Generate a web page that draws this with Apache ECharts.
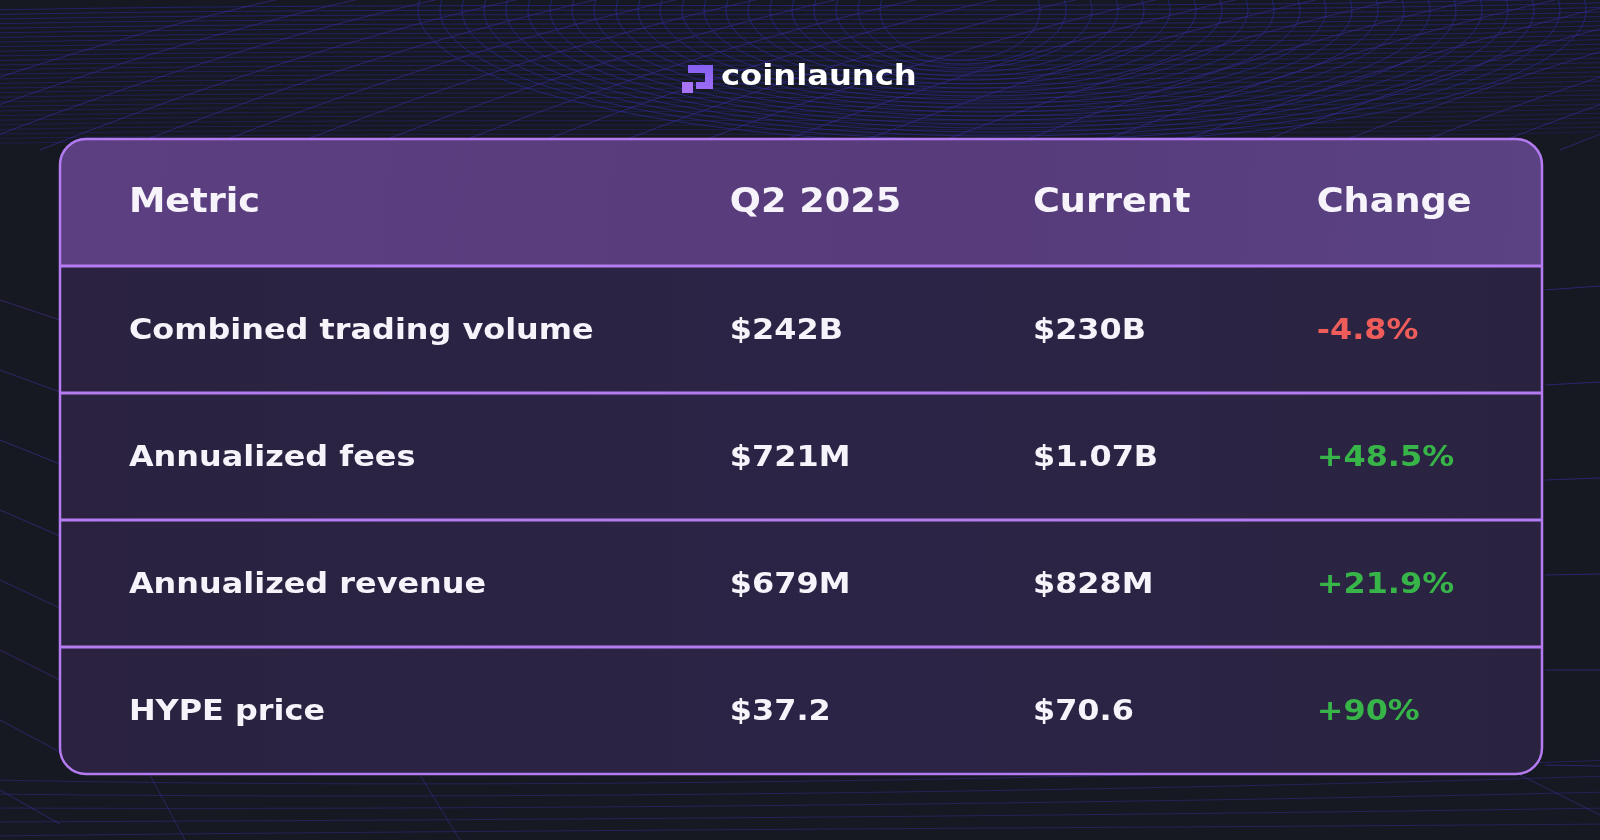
<!DOCTYPE html>
<html>
<head>
<meta charset="utf-8">
<script src="https://cdn.jsdelivr.net/npm/echarts@6/dist/echarts.min.js"></script>
<style>
html,body{margin:0;padding:0;background:#161922;}
#chart{width:1600px;height:840px;}
</style>
</head>
<body>
<div id="chart"></div>
<script>
// ---- data ----
const headers = ['Metric', 'Q2 2025', 'Current', 'Change'];
const metrics = ['Combined trading volume', 'Annualized fees', 'Annualized revenue', 'HYPE price'];
const q2Values = ['$242B', '$721M', '$679M', '$37.2'];
const currentValues = ['$230B', '$1.07B', '$828M', '$70.6'];
const changes = ['-4.8%', '+48.5%', '+21.9%', '+90%'];
const brand = 'coinlaunch';

// ---- layout / style ----
const colStart = [4.65, 45.2, 65.65, 84.8]; // percent of table width
const rowKeys = ['header'].concat(metrics);
const C = {
  bg: '#161922',
  border: '#b57cf2',
  text: '#f6f4fa',
  red: '#ef5d5a',
  green: '#37b548',
  mesh: 'rgba(42,40,150,0.75)'
};
const RADIUS = 26;

// build cell list
const cells = [];
headers.forEach((h, ci) => cells.push({ value: [colStart[ci], 0], text: h, kind: 'head' }));
metrics.forEach((m, ri) => {
  const row = ri + 1;
  cells.push({ value: [colStart[0], row], text: m, kind: 'body' });
  cells.push({ value: [colStart[1], row], text: q2Values[ri], kind: 'body' });
  cells.push({ value: [colStart[2], row], text: currentValues[ri], kind: 'body' });
  cells.push({ value: [colStart[3], row], text: changes[ri], kind: changes[ri].charAt(0) === '-' ? 'neg' : 'pos' });
});

// decorative background mesh (not data)
const decor = [];
for (let i = 0; i < 30; i++) {
  const y0 = 4 + i * 4.6;
  decor.push({ type: 'bezierCurve', silent: true,
    shape: { x1: -10, y1: y0 + 6, cpx1: 500, cpy1: y0 - 4, cpx2: 1100, cpy2: y0 + 8, x2: 1610, y2: y0 - 6 },
    style: { stroke: C.mesh, lineWidth: 1, fill: null, opacity: 0.8 - i * 0.012 } });
}
for (let i = 0; i < 24; i++) {
  const x0 = -200 + i * 80;
  decor.push({ type: 'bezierCurve', silent: true,
    shape: { x1: x0, y1: 150, cpx1: x0 + 150, cpy1: 90, cpx2: x0 + 330, cpy2: 30, x2: x0 + 520, y2: -10 },
    style: { stroke: 'rgba(70,45,180,0.5)', lineWidth: 1, fill: null } });
}
for (let i = 0; i < 22; i++) {
  const rx = 80 + i * 24;
  const ry = 50 + i * 4;
  decor.push({ type: 'ellipse', silent: true,
    shape: { cx: 960 + i * 2, cy: 10, rx: rx, ry: ry },
    style: { stroke: 'rgba(45,45,160,0.6)', lineWidth: 1, fill: null } });
}
for (let i = 0; i < 8; i++) {
  decor.push({ type: 'line', silent: true,
    shape: { x1: 0, y1: 300 + i * 70, x2: 60, y2: 320 + i * 72 },
    style: { stroke: 'rgba(80,50,190,0.45)', lineWidth: 1 } });
}
for (let i = 0; i < 5; i++) {
  decor.push({ type: 'bezierCurve', silent: true,
    shape: { x1: -10, y1: 780 + i * 14, cpx1: 500, cpy1: 790 + i * 10, cpx2: 1100, cpy2: 780 + i * 12, x2: 1610, y2: 760 + i * 16 },
    style: { stroke: 'rgba(60,52,190,0.35)', lineWidth: 1, fill: null } });
}
for (let i = 0; i < 6; i++) {
  decor.push({ type: 'line', silent: true,
    shape: { x1: 1545, y1: 290 + i * 95, x2: 1600, y2: 286 + i * 96 },
    style: { stroke: 'rgba(60,52,190,0.5)', lineWidth: 1 } });
}
decor.push({ type: 'line', silent: true, shape: { x1: 150, y1: 775, x2: 185, y2: 840 }, style: { stroke: 'rgba(80,50,190,0.4)', lineWidth: 1 } });
decor.push({ type: 'line', silent: true, shape: { x1: 420, y1: 775, x2: 460, y2: 840 }, style: { stroke: 'rgba(80,50,190,0.4)', lineWidth: 1 } });
decor.push({ type: 'line', silent: true, shape: { x1: 1520, y1: 775, x2: 1600, y2: 815 }, style: { stroke: 'rgba(80,50,190,0.4)', lineWidth: 1 } });

const chart = echarts.init(document.getElementById('chart'), null, { renderer: 'canvas' });

const option = {
  backgroundColor: C.bg,
  animation: false,
  graphic: [
    { type: 'group', z: -10, silent: true, children: decor },
    { type: 'group', z: 10, children: [
      { type: 'polygon', shape: { points: [[688,65],[713,65],[713,89],[696,89],[696,82],[705,82],[705,73],[688,73]] },
        style: { fill: new echarts.graphic.LinearGradient(0, 0, 0, 1, [{ offset: 0, color: '#8660f2' }, { offset: 1, color: '#9c6df4' }]) } },
      { type: 'rect', shape: { x: 682, y: 82, width: 11, height: 11 }, style: { fill: '#a874f5' } },
      { type: 'text', x: 721, y: 78, scaleX: 1.15,
        style: { text: brand, fill: '#ffffff', font: 'bold 28px "DejaVu Sans"', verticalAlign: 'middle', align: 'left' } }
    ]}
  ],
  grid: { left: 60, right: 58, top: 139, bottom: 66 },
  xAxis: { type: 'value', min: 0, max: 100, show: false },
  yAxis: { type: 'category', data: rowKeys, inverse: true, show: false },
  series: [
    {
      type: 'custom', name: 'rows', z: 1, silent: true,
      data: rowKeys.map((k, i) => [0, i]),
      encode: { x: 0, y: 1 },
      renderItem: function (params, api) {
        const idx = api.value(1);
        const cs = params.coordSys;
        const c = api.coord([0, idx]);
        const h = api.size([0, 1])[1];
        const top = c[1] - h / 2;
        const last = rowKeys.length - 1;
        const r = idx === 0 ? [RADIUS, RADIUS, 0, 0] : (idx === last ? [0, 0, RADIUS, RADIUS] : 0);
        const fill = idx === 0
          ? new echarts.graphic.LinearGradient(0, 0, 1, 1, [{ offset: 0, color: '#5c3f80' }, { offset: 0.6, color: '#573b7b' }, { offset: 1, color: '#5a4283' }])
          : new echarts.graphic.LinearGradient(0, 0, 1, 0, [{ offset: 0, color: '#2a2240' }, { offset: 0.55, color: '#2c2446' }, { offset: 1, color: '#2a2340' }]);
        return { type: 'rect', shape: { x: cs.x, y: top, width: cs.width, height: h, r: r }, style: { fill: fill } };
      }
    },
    {
      type: 'custom', name: 'separators', z: 2, silent: true,
      data: rowKeys.slice(0, -1).map((k, i) => [0, i]),
      encode: { x: 0, y: 1 },
      renderItem: function (params, api) {
        const idx = api.value(1);
        const cs = params.coordSys;
        const c = api.coord([0, idx]);
        const h = api.size([0, 1])[1];
        const yb = c[1] + h / 2;
        return { type: 'line', shape: { x1: cs.x, y1: yb, x2: cs.x + cs.width, y2: yb },
          style: { stroke: C.border, lineWidth: 3 } };
      }
    },
    {
      type: 'custom', name: 'frame', z: 2, silent: true,
      data: [[0, 0]],
      encode: { x: 0, y: 1 },
      renderItem: function (params, api) {
        const cs = params.coordSys;
        return { type: 'rect', shape: { x: cs.x, y: cs.y, width: cs.width, height: cs.height, r: RADIUS },
          style: { fill: null, stroke: C.border, lineWidth: 2.5 } };
      }
    },
    {
      type: 'custom', name: 'cells', z: 3, silent: true,
      data: cells,
      encode: { x: 0, y: 1 },
      renderItem: function (params, api) {
        const cell = cells[params.dataIndex];
        const p = api.coord([api.value(0), api.value(1)]);
        const head = cell.kind === 'head';
        const fill = cell.kind === 'neg' ? C.red : (cell.kind === 'pos' ? C.green : C.text);
        return {
          type: 'text', x: p[0], y: p[1] + (head ? 1 : 1.5), scaleX: head ? 1.11 : 1.1,
          style: { text: cell.text, fill: fill, align: 'left', verticalAlign: 'middle',
            font: (head ? 'bold 33px' : 'bold 29px') + ' "DejaVu Sans"' }
        };
      }
    }
  ]
};
chart.setOption(option);
</script>
</body>
</html>
